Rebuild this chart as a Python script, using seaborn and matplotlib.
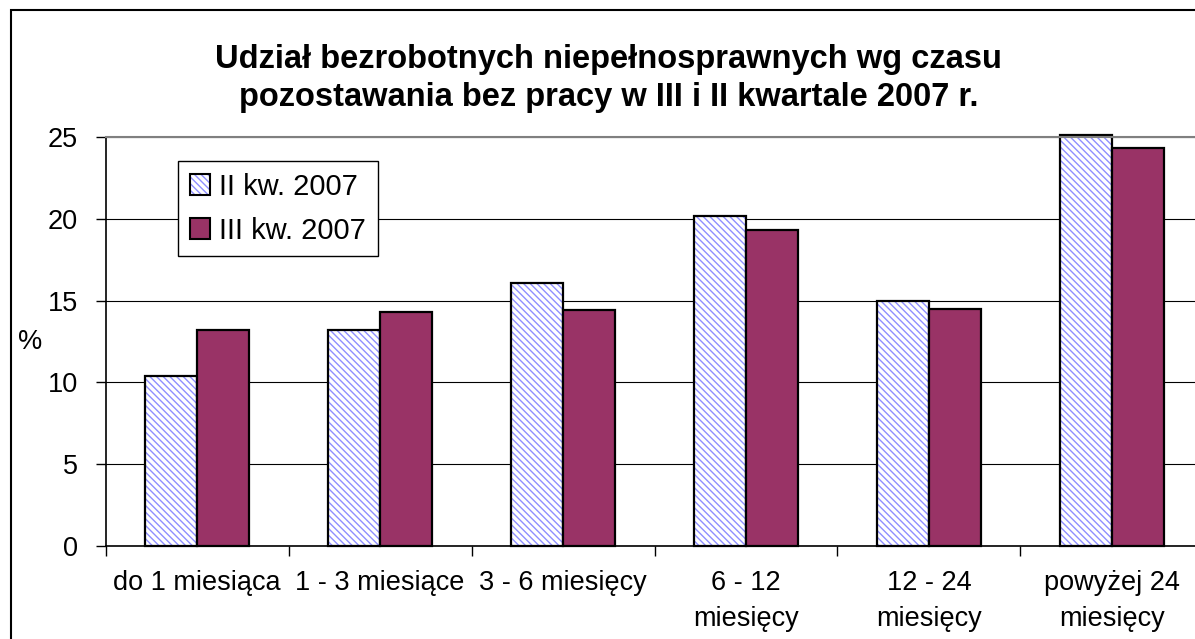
import matplotlib
matplotlib.use("Agg")
import matplotlib.pyplot as plt
import matplotlib.colors as mcolors
from matplotlib.patches import Patch, Rectangle
import numpy as np
import pandas as pd
import seaborn as sns

# data
categories = ["do 1 miesiąca", "1 - 3 miesiące", "3 - 6 miesięcy",
              "6 - 12\nmiesięcy", "12 - 24\nmiesięcy", "powyżej 24\nmiesięcy"]
series_names = ["II kw. 2007", "III kw. 2007"]
q2_values = [10.4, 13.2, 16.1, 20.2, 15.0, 25.1]
q3_values = [13.2, 14.3, 14.4, 19.3, 14.5, 24.3]
y_ticks = [0, 5, 10, 15, 20, 25]
title = ("Udział bezrobotnych niepełnosprawnych wg czasu\n"
         "pozostawania bez pracy w III i II kwartale 2007 r.")

HATCH = "\\" * 5
HATCH_COLOR = mcolors.to_rgba("#8f8fff")
PLUM = "#993366"

df = pd.DataFrame({
    "okres": categories * 2,
    "udzial": q2_values + q3_values,
    "kwartal": [series_names[0]] * len(categories) + [series_names[1]] * len(categories),
})

sns.set_style("white")
plt.rcParams["font.family"] = ["Liberation Sans", "DejaVu Sans"]
plt.rcParams["hatch.linewidth"] = 1.0
for key in ["text.color", "axes.labelcolor", "xtick.color", "ytick.color"]:
    plt.rcParams[key] = "black"

fig = plt.figure(figsize=(11.95, 6.39), dpi=100)
ax = fig.add_axes([0.0883, 0.1455, 0.9188, 0.6401])

sns.barplot(data=df, x="okres", y="udzial", hue="kwartal",
            order=categories, hue_order=series_names,
            palette=["white", PLUM], saturation=1, width=0.567,
            edgecolor="black", linewidth=1.6, legend=False, ax=ax)

for p in ax.patches:
    p.set_clip_on(False)
    if np.allclose(p.get_facecolor()[:3], (1, 1, 1)):
        p.set_hatch(HATCH)
        p._hatch_color = HATCH_COLOR

ax.set_ylim(0, 25)
ax.set_xlim(-0.5, len(categories) - 0.5)
ax.set_yticks(y_ticks)
ax.set_xticks(np.arange(-0.5, len(categories), 1))
ax.set_xticklabels([])
ax.set_xticks(range(len(categories)), minor=True)
ax.set_xticklabels(categories, minor=True, linespacing=1.5)
ax.tick_params(axis="x", which="major", length=7, width=1, direction="out")
ax.tick_params(axis="x", which="minor", length=0, pad=17, labelsize=19.5)
ax.tick_params(axis="y", length=7, width=1, direction="out", pad=13, labelsize=19.5)
ax.tick_params(axis="both", which="both", bottom=True, left=True)

ax.set_xlabel("")
ax.set_ylabel("%", rotation=0, fontsize=19.5, ha="center", va="center")
ax.yaxis.set_label_coords(-0.0688, 0.5)

ax.yaxis.grid(True, color="black", linewidth=0.8)
ax.set_axisbelow(True)
for side in ["left", "bottom"]:
    ax.spines[side].set_color("black")
    ax.spines[side].set_linewidth(1.2)
ax.spines["top"].set_color("#808080")
ax.spines["top"].set_linewidth(1.5)
ax.spines["right"].set_visible(False)

# legend
h2 = Patch(facecolor="white", edgecolor="black", hatch=HATCH, linewidth=1.5)
h2._hatch_color = HATCH_COLOR
h3 = Patch(facecolor=PLUM, edgecolor="black", linewidth=1.5)
leg = ax.legend([h2, h3], series_names, loc="upper left",
                bbox_to_anchor=(0.149, 0.748), bbox_transform=fig.transFigure,
                fontsize=21, fancybox=False, framealpha=1, edgecolor="black",
                handlelength=0.7, handleheight=0.7, handletextpad=0.32,
                labelspacing=0.55, borderpad=0.4, borderaxespad=0)
leg.get_frame().set_linewidth(1.0)

fig.text(0.509, 0.877, title, ha="center", va="center", fontsize=23.5,
         fontweight="bold", linespacing=1.3)

# outer chart border
fig.add_artist(Rectangle((0.0088, -0.5), 2, 0.9836 + 0.5, transform=fig.transFigure,
                         fill=False, edgecolor="black", linewidth=1.5))

fig.savefig("out.png", dpi=100)
